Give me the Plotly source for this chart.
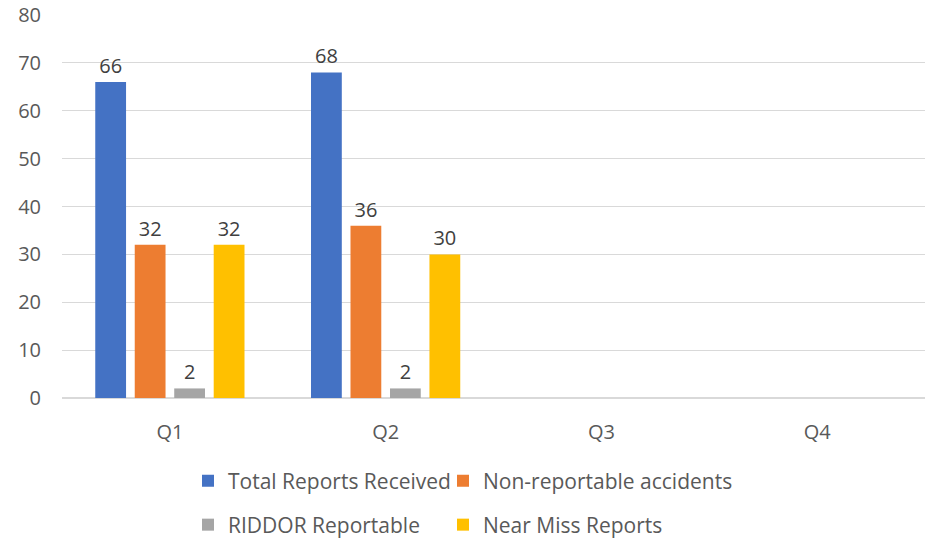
import plotly.graph_objects as go

quarters = ["Q1", "Q2", "Q3", "Q4"]
total_reports = [66, 68, None, None]
non_reportable = [32, 36, None, None]
riddor = [2, 2, None, None]
near_miss = [32, 30, None, None]

series = [
    ("Total Reports Received", total_reports, "#4472C4"),
    ("Non-reportable accidents", non_reportable, "#ED7D31"),
    ("RIDDOR Reportable", riddor, "#A5A5A5"),
    ("Near Miss Reports", near_miss, "#FFC000"),
]
legend_ids = ["legend", "legend2", "legend3", "legend4"]
# legend swatch left edges / row centres in the reference (px)
legend_cols = [205, 460, 205, 460]
legend_rows = [481, 481, 525, 525]

FONT = "Open Sans"
FS = 20
L, R, T, B, W, H = 62, 3, 15, 143, 928, 541
PW, PH = W - L - R, H - T - B

fig = go.Figure()
for (name, vals, col), lg in zip(series, legend_ids):
    fig.add_trace(go.Bar(
        x=quarters, y=vals, name=name, marker_color=col, marker_line_width=0,
        text=[("" if v is None else str(v)) for v in vals],
        textposition="outside", cliponaxis=False,
        textfont=dict(family=FONT, size=FS, color="#404040"),
        legend=lg, hoverinfo="skip",
    ))

legends = {}
for lg, cx, cy in zip(legend_ids, legend_cols, legend_rows):
    legends[lg] = dict(
        orientation="h", xanchor="left", yanchor="middle",
        x=(cx - 17 - L) / PW, y=(H - B - cy) / PH,
        font=dict(family=FONT, size=21, color="#595959"),
        bgcolor="rgba(0,0,0,0)",
        itemclick=False, itemdoubleclick=False,
    )

fig.update_layout(
    width=W, height=H,
    margin=dict(l=L, r=R, t=T, b=B, autoexpand=False),
    paper_bgcolor="white", plot_bgcolor="white",
    barmode="group", bargap=0.268, bargroupgap=0.22,
    font=dict(family=FONT, size=FS, color="#595959"),
    showlegend=True,
    **legends,
)
fig.update_yaxes(
    range=[0, 80], dtick=10, showgrid=True, gridcolor="#D9D9D9", gridwidth=1,
    zeroline=True, zerolinecolor="#D9D9D9", zerolinewidth=1.5,
    showline=False, ticks="", ticklabelstandoff=20, automargin=False,
    tickfont=dict(family=FONT, size=FS, color="#595959"),
)
fig.update_xaxes(
    showgrid=False, showline=False, ticks="", ticklabelstandoff=20, automargin=False,
    tickfont=dict(family=FONT, size=FS, color="#595959"),
)
fig.write_html("out.html", config={"displayModeBar": False},
               post_script="document.body.style.margin='0';")
